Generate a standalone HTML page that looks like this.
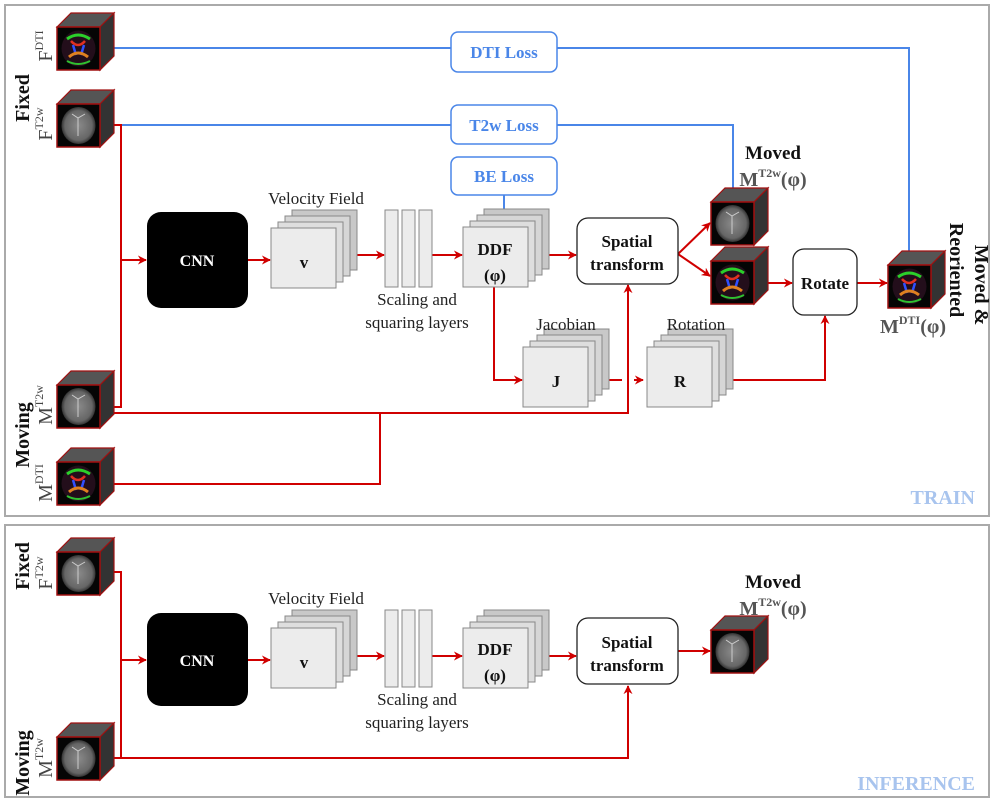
<!DOCTYPE html>
<html><head><meta charset="utf-8"><style>
html,body{margin:0;padding:0;background:#fff;}
svg{display:block;font-family:"Liberation Serif","DejaVu Serif",serif;}
</style></head><body>
<svg width="995" height="800" viewBox="0 0 995 800" xmlns="http://www.w3.org/2000/svg">
<defs>
<marker id="ar" viewBox="0 0 10 10" refX="9" refY="5" markerWidth="9" markerHeight="9" orient="auto" markerUnits="userSpaceOnUse"><path d="M0,0 L10,5 L0,10 L3,5 z" fill="#d00000"/></marker>
<radialGradient id="gT" cx="50%" cy="50%" r="50%"><stop offset="0" stop-color="#8a8a8a"/><stop offset="0.8" stop-color="#666"/><stop offset="1" stop-color="#333"/></radialGradient>
<g id="cube">
<polygon points="0,0 14,-14 57,-14 43,0" fill="#555" stroke="#a01010" stroke-width="1.2"/>
<polygon points="43,0 57,-14 57,29 43,43" fill="#333" stroke="#a01010" stroke-width="1.2"/>
<rect x="0" y="0" width="43" height="43" fill="#050505" stroke="#a01010" stroke-width="1.5"/>
</g>
<g id="t2">
<use href="#cube"/>
<ellipse cx="21.5" cy="21.5" rx="17" ry="18.5" fill="url(#gT)"/>
<path d="M15,10 L21,14 L28,10 M21,14 L21,32" stroke="#ccc" stroke-width="1" fill="none"/>
</g>
<g id="dti">
<use href="#cube"/>
<ellipse cx="21.5" cy="21.5" rx="17" ry="18" fill="#2a1020" opacity="0.8"/>
<path d="M10,12 Q21,4 33,12" stroke="#2bd02b" stroke-width="3" fill="none"/>
<path d="M14,14 Q21,22 28,14" stroke="#e03020" stroke-width="2.5" fill="none"/>
<path d="M16,18 L19,28 M27,18 L24,28" stroke="#3050ff" stroke-width="2.5" fill="none"/>
<path d="M12,30 Q21,22 31,30" stroke="#e08020" stroke-width="3" fill="none"/>
<path d="M10,34 Q21,40 33,34" stroke="#30c030" stroke-width="2" fill="none"/>
</g>
<g id="stk">
<rect x="21" y="-18" width="65" height="60" fill="#c8c8c8" stroke="#888"/>
<rect x="14" y="-12" width="65" height="60" fill="#d6d6d6" stroke="#888"/>
<rect x="7" y="-6" width="65" height="60" fill="#dedede" stroke="#888"/>
<rect x="0" y="0" width="65" height="60" fill="#ececec" stroke="#888"/>
</g>
<g id="bars">
<rect x="0" y="0" width="13" height="77" fill="#ececec" stroke="#888"/>
<rect x="17" y="0" width="13" height="77" fill="#ececec" stroke="#888"/>
<rect x="34" y="0" width="13" height="77" fill="#ececec" stroke="#888"/>
</g>
</defs>

<!-- panels -->
<rect x="5" y="5" width="984" height="511" fill="none" stroke="#aaa" stroke-width="2"/>
<rect x="5" y="525" width="984" height="272" fill="none" stroke="#aaa" stroke-width="2"/>

<g fill="none" stroke-width="2">
<!-- blue lines TRAIN -->
<polyline points="100,48 909,48 909,265" stroke="#4a86e8"/>
<polyline points="100,125 733,125 733,202" stroke="#4a86e8"/>
<line x1="504" y1="195" x2="504" y2="212" stroke="#4a86e8"/>
<!-- red TRAIN -->
<polyline points="100,125 121,125 121,407 100,407" stroke="#d00000"/>
<line x1="121" y1="260" x2="146" y2="260" stroke="#d00000" marker-end="url(#ar)"/>
<line x1="248" y1="260" x2="270" y2="260" stroke="#d00000" marker-end="url(#ar)"/>
<line x1="337" y1="255" x2="384" y2="255" stroke="#d00000" marker-end="url(#ar)"/>
<line x1="432" y1="255" x2="462" y2="255" stroke="#d00000" marker-end="url(#ar)"/>
<line x1="530" y1="255" x2="576" y2="255" stroke="#d00000" marker-end="url(#ar)"/>
<line x1="678" y1="254" x2="710" y2="223" stroke="#d00000" marker-end="url(#ar)"/>
<line x1="678" y1="254" x2="710" y2="276" stroke="#d00000" marker-end="url(#ar)"/>
<line x1="764" y1="283" x2="792" y2="283" stroke="#d00000" marker-end="url(#ar)"/>
<line x1="857" y1="283" x2="887" y2="283" stroke="#d00000" marker-end="url(#ar)"/>
<polyline points="494,287 494,380 522,380" stroke="#d00000" marker-end="url(#ar)"/>
<line x1="600" y1="380" x2="622" y2="380" stroke="#d00000"/>
<line x1="634" y1="380" x2="643" y2="380" stroke="#d00000" marker-end="url(#ar)"/>
<polyline points="713,380 825,380 825,316" stroke="#d00000" marker-end="url(#ar)"/>
<polyline points="100,413 628,413 628,285" stroke="#d00000" marker-end="url(#ar)"/>
<polyline points="100,484 380,484 380,413" stroke="#d00000"/>
<!-- red INFERENCE -->
<polyline points="100,572 121,572 121,758 100,758" stroke="#d00000"/>
<line x1="121" y1="660" x2="146" y2="660" stroke="#d00000" marker-end="url(#ar)"/>
<line x1="248" y1="660" x2="270" y2="660" stroke="#d00000" marker-end="url(#ar)"/>
<line x1="337" y1="656" x2="384" y2="656" stroke="#d00000" marker-end="url(#ar)"/>
<line x1="432" y1="656" x2="462" y2="656" stroke="#d00000" marker-end="url(#ar)"/>
<line x1="530" y1="656" x2="576" y2="656" stroke="#d00000" marker-end="url(#ar)"/>
<line x1="678" y1="651" x2="710" y2="651" stroke="#d00000" marker-end="url(#ar)"/>
<polyline points="100,758 628,758 628,686" stroke="#d00000" marker-end="url(#ar)"/>
</g>

<!-- loss boxes -->
<g fill="#fff" stroke="#4a86e8" stroke-width="1.5">
<rect x="451" y="32" width="106" height="40" rx="7"/>
<rect x="451" y="105" width="106" height="39" rx="7"/>
<rect x="451" y="157" width="106" height="38" rx="7"/>
</g>
<g font-weight="bold" font-size="17" fill="#4a86e8" text-anchor="middle">
<text x="504" y="58">DTI Loss</text>
<text x="504" y="131">T2w Loss</text>
<text x="504" y="182">BE Loss</text>
</g>

<!-- cubes -->
<use href="#dti" x="57" y="27"/>
<use href="#t2" x="57" y="104"/>
<use href="#t2" x="57" y="385"/>
<use href="#dti" x="57" y="462"/>
<use href="#t2" x="711" y="202"/>
<use href="#dti" x="711" y="261"/>
<use href="#dti" x="888" y="265"/>
<use href="#t2" x="57" y="552"/>
<use href="#t2" x="57" y="737"/>
<use href="#t2" x="711" y="630"/>

<!-- CNN -->
<rect x="147" y="212" width="101" height="96" rx="14" fill="#000"/>
<rect x="147" y="613" width="101" height="93" rx="14" fill="#000"/>
<g font-weight="bold" font-size="16" fill="#fff" text-anchor="middle">
<text x="197" y="266">CNN</text><text x="197" y="666">CNN</text>
</g>

<!-- stacks -->
<use href="#stk" x="271" y="228"/>
<use href="#stk" x="463" y="227"/>
<use href="#stk" x="523" y="347"/>
<use href="#stk" x="647" y="347"/>
<use href="#stk" x="271" y="628"/>
<use href="#stk" x="463" y="628"/>
<use href="#bars" x="385" y="210"/>
<use href="#bars" x="385" y="610"/>

<!-- boxes -->
<g fill="#fff" stroke="#222" stroke-width="1.3">
<rect x="577" y="218" width="101" height="66" rx="11"/>
<rect x="793" y="249" width="64" height="66" rx="11"/>
<rect x="577" y="618" width="101" height="66" rx="11"/>
</g>

<g font-weight="bold" font-size="17" fill="#111" text-anchor="middle">
<text x="304" y="268">v</text>
<text x="495" y="255">DDF</text><text x="495" y="281">(φ)</text>
<text x="556" y="387">J</text>
<text x="680" y="387">R</text>
<text x="627" y="247">Spatial</text><text x="627" y="270">transform</text>
<text x="825" y="289">Rotate</text>
<text x="304" y="668">v</text>
<text x="495" y="655">DDF</text><text x="495" y="681">(φ)</text>
<text x="627" y="648">Spatial</text><text x="627" y="671">transform</text>
<text x="773" y="159" font-size="19">Moved</text>
<text x="773" y="588" font-size="19">Moved</text>
</g>
<g font-size="17" fill="#222" text-anchor="middle">
<text x="316" y="204">Velocity Field</text>
<text x="417" y="305">Scaling and</text><text x="417" y="328">squaring layers</text>
<text x="566" y="330">Jacobian</text>
<text x="696" y="330">Rotation</text>
<text x="316" y="604">Velocity Field</text>
<text x="417" y="705">Scaling and</text><text x="417" y="728">squaring layers</text>
</g>
<g font-weight="bold" fill="#555" font-size="20" text-anchor="middle">
<text x="773" y="186">M<tspan font-size="12" dy="-9">T2w</tspan><tspan dy="9">(φ)</tspan></text>
<text x="773" y="615">M<tspan font-size="12" dy="-9">T2w</tspan><tspan dy="9">(φ)</tspan></text>
<text x="913" y="333">M<tspan font-size="12" dy="-9">DTI</tspan><tspan dy="9">(φ)</tspan></text>
</g>

<!-- rotated labels -->
<g font-weight="bold" font-size="20" fill="#111">
<text transform="translate(29,98) rotate(-90)" text-anchor="middle">Fixed</text>
<text transform="translate(29,435) rotate(-90)" text-anchor="middle">Moving</text>
<text transform="translate(29,566) rotate(-90)" text-anchor="middle">Fixed</text>
<text transform="translate(29,763) rotate(-90)" text-anchor="middle">Moving</text>
<text transform="translate(975,285) rotate(90)" text-anchor="middle">Moved &amp;</text>
<text transform="translate(950,270) rotate(90)" text-anchor="middle">Reoriented</text>
</g>
<g font-size="20" fill="#444">
<text transform="translate(52,46) rotate(-90)" text-anchor="middle">F<tspan font-size="12" dy="-9">DTI</tspan></text>
<text transform="translate(52,124) rotate(-90)" text-anchor="middle">F<tspan font-size="12" dy="-9">T2w</tspan></text>
<text transform="translate(52,405) rotate(-90)" text-anchor="middle">M<tspan font-size="12" dy="-9">T2w</tspan></text>
<text transform="translate(52,483) rotate(-90)" text-anchor="middle">M<tspan font-size="12" dy="-9">DTI</tspan></text>
<text transform="translate(52,573) rotate(-90)" text-anchor="middle">F<tspan font-size="12" dy="-9">T2w</tspan></text>
<text transform="translate(52,758) rotate(-90)" text-anchor="middle">M<tspan font-size="12" dy="-9">T2w</tspan></text>
</g>

<g font-weight="bold" font-size="20" fill="#a8c4ee" text-anchor="end">
<text x="975" y="504">TRAIN</text>
<text x="975" y="790">INFERENCE</text>
</g>
</svg>
</body></html>
